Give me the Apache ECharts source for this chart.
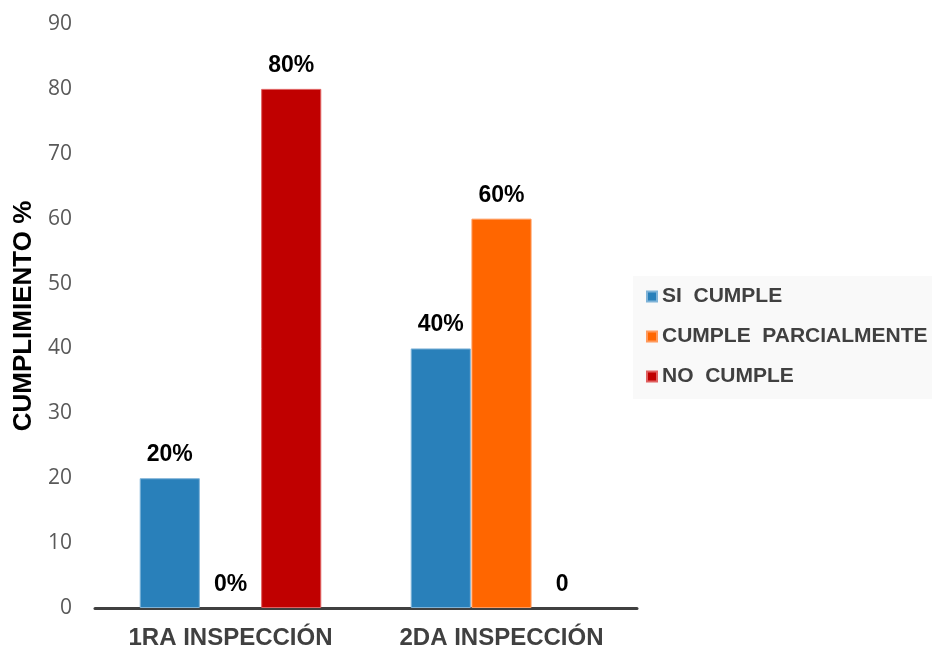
<!DOCTYPE html>
<html>
<head>
<meta charset="utf-8">
<script src="https://cdn.jsdelivr.net/npm/echarts@6/dist/echarts.min.js"></script>
<style>
  html, body { margin: 0; padding: 0; background: #ffffff; }
  #chart { width: 932px; height: 650px; }
</style>
</head>
<body>
<div id="chart"></div>
<script>
// Inspection rounds and compliance share per status (%)
const categories = ['1RA INSPECCIÓN', '2DA INSPECCIÓN'];
const seriesNames = ['SI  CUMPLE', 'CUMPLE  PARCIALMENTE', 'NO  CUMPLE'];
const siCumple = [20, 40];
const cumpleParcial = [0, 60];
const noCumple = [80, 0];
// Text printed above each bar
const siLabels = ['20%', '40%'];
const parcialLabels = ['0%', '60%'];
const noLabels = ['80%', '0'];
const yTicks = { min: 0, max: 90, interval: 10 };

const colors = ['#2980BA', '#FF6600', '#C00000'];
const borders = ['#7FB3D8', '#FF9A5C', '#E06060'];

function makeSeries(name, values, labels, idx) {
  return {
    name: name,
    type: 'bar',
    // zero-height bars get no outline so nothing shows on the axis
    data: values.map(v => ({ value: v, itemStyle: { borderWidth: v === 0 ? 0 : 1 } })),
    barGap: '1%',
    barCategoryGap: '33%',
    itemStyle: { color: colors[idx], borderColor: borders[idx], borderWidth: 1 },
    label: {
      show: true,
      position: 'top',
      distance: 12,
      formatter: p => labels[p.dataIndex],
      fontFamily: 'Liberation Sans',
      fontWeight: 'bold',
      fontSize: 23,
      color: '#000000'
    }
  };
}

const chart = echarts.init(document.getElementById('chart'));
chart.setOption({
  animation: false,
  backgroundColor: '#ffffff',
  grid: { left: 95, right: 295, top: 24, bottom: 42 },
  legend: {
    orient: 'vertical',
    left: 633,
    top: 276,
    padding: [10, 20, 12, 13],
    backgroundColor: '#F9F9F9',
    itemWidth: 10,
    itemHeight: 10,
    itemGap: 19,
    icon: 'rect',
    textStyle: { fontFamily: 'Liberation Sans', fontWeight: 'bold', fontSize: 21, color: '#404040' },
    data: seriesNames
  },
  xAxis: {
    type: 'category',
    data: categories,
    axisLine: { lineStyle: { color: '#404040', width: 3 } },
    axisTick: { show: false },
    axisLabel: {
      margin: 18,
      fontFamily: 'Liberation Sans',
      fontWeight: 'bold',
      fontSize: 24,
      color: '#404040'
    }
  },
  yAxis: {
    type: 'value',
    min: yTicks.min,
    max: yTicks.max,
    interval: yTicks.interval,
    name: 'CUMPLIMIENTO %',
    nameLocation: 'middle',
    nameGap: 56,
    nameTextStyle: { fontFamily: 'Liberation Sans', fontWeight: 'bold', fontSize: 26, color: '#000000' },
    axisLine: { show: false },
    axisTick: { show: false },
    splitLine: { show: false },
    axisLabel: { margin: 23, fontFamily: 'Open Sans', fontSize: 21, color: '#595959' }
  },
  series: [
    makeSeries(seriesNames[0], siCumple, siLabels, 0),
    makeSeries(seriesNames[1], cumpleParcial, parcialLabels, 1),
    makeSeries(seriesNames[2], noCumple, noLabels, 2)
  ]
});
</script>
</body>
</html>
